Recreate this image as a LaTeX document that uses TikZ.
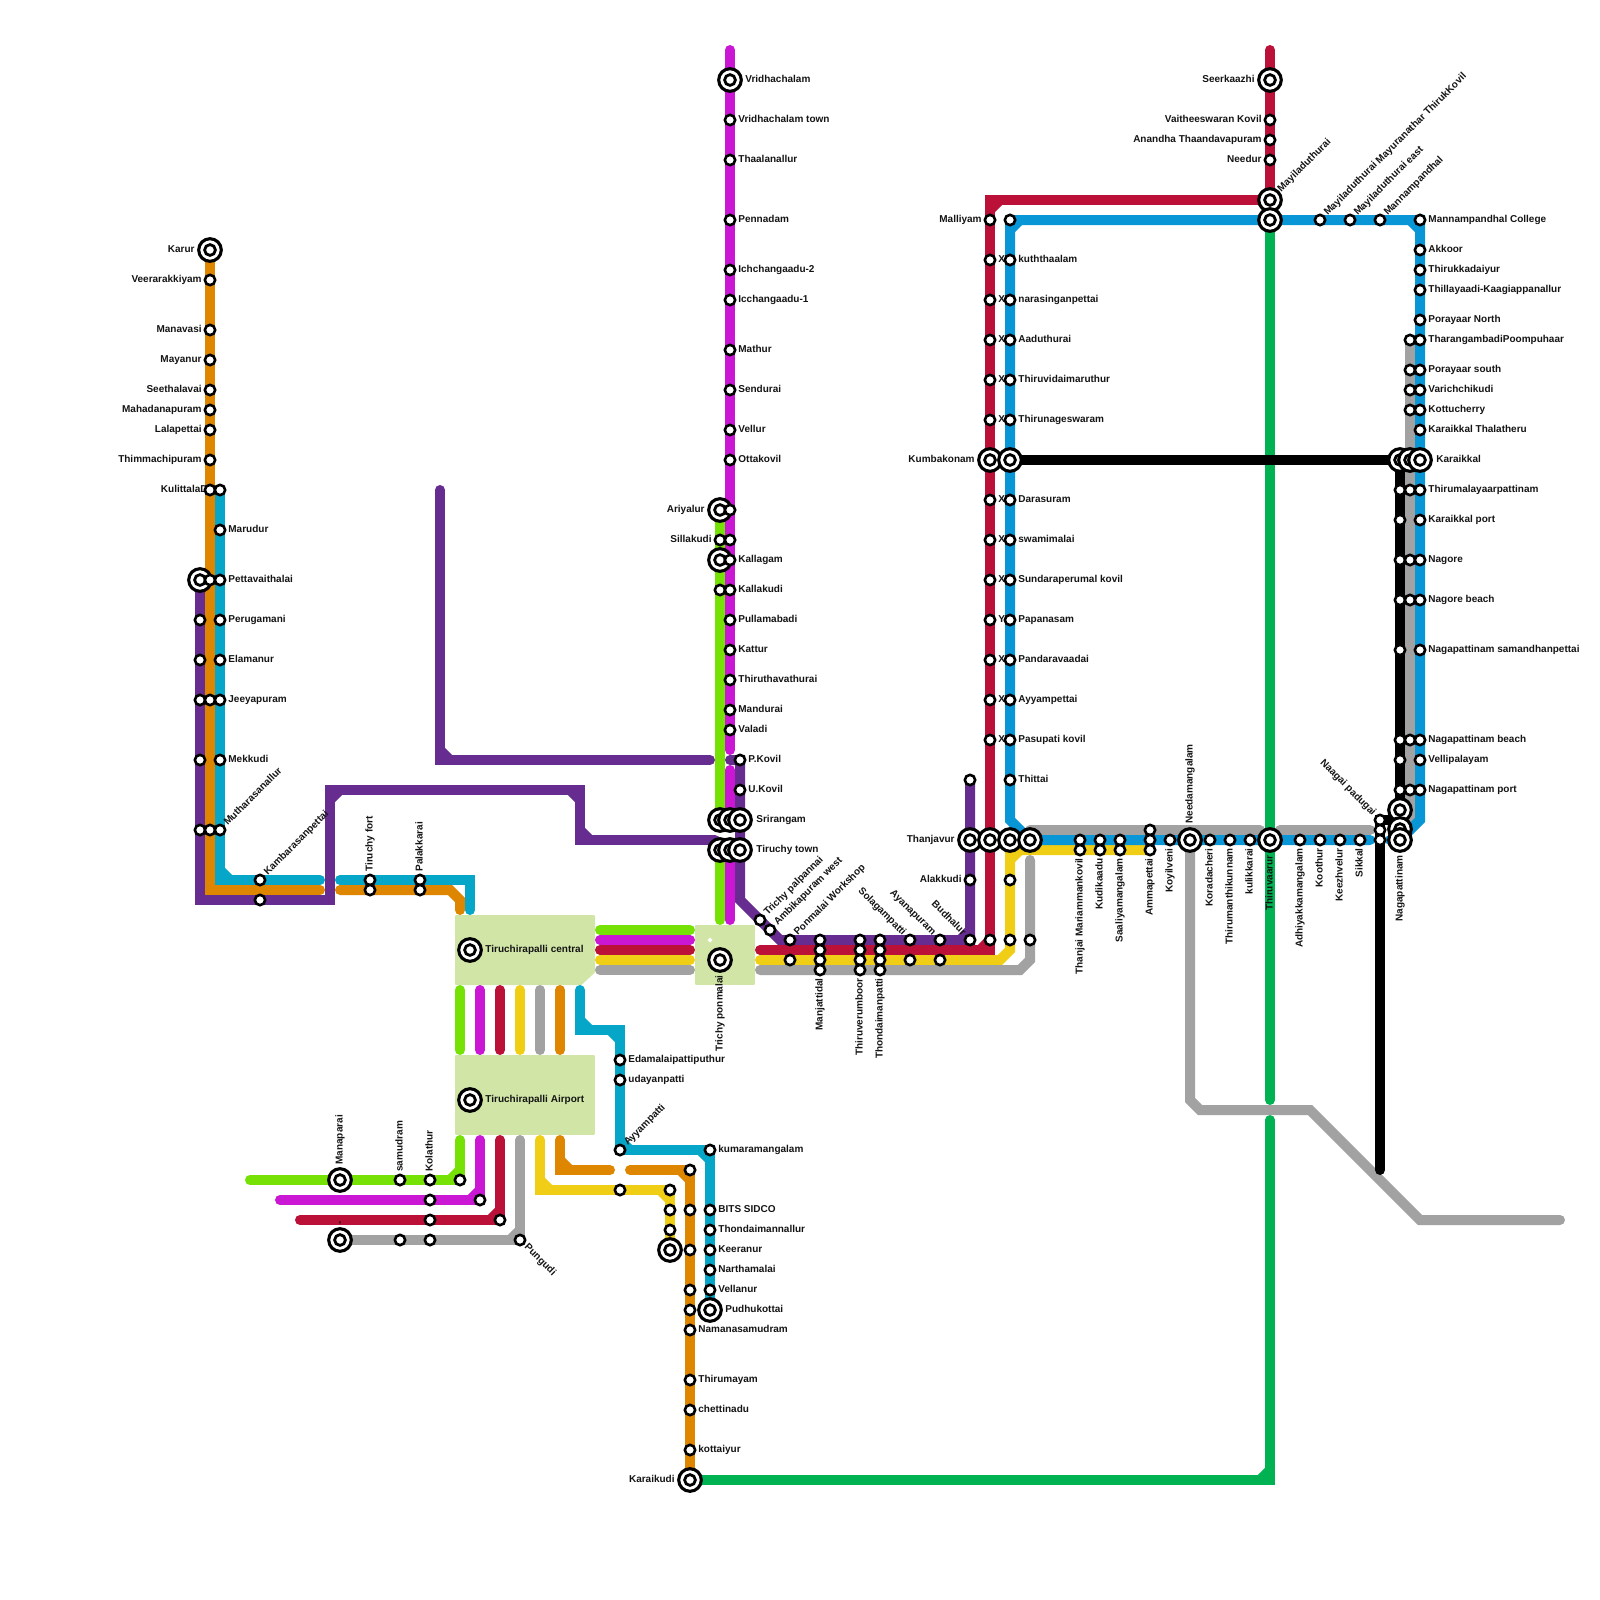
\documentclass[tikz,border=0pt]{standalone}
\usepackage{fontspec}
\setmainfont{Liberation Sans}
\definecolor{cOr}{HTML}{DF8600}
\definecolor{cTe}{HTML}{05A6C8}
\definecolor{cPu}{HTML}{662C90}
\definecolor{cLi}{HTML}{76E104}
\definecolor{cMa}{HTML}{C917D3}
\definecolor{cRe}{HTML}{BB1138}
\definecolor{cYe}{HTML}{F0CE15}
\definecolor{cGy}{HTML}{A2A2A2}
\definecolor{cBl}{HTML}{0896D7}
\definecolor{cGr}{HTML}{00B251}
\definecolor{cHub}{HTML}{D1E6A6}
\pgfdeclarelayer{bg}
\pgfsetlayers{bg,main}
\tikzset{
 ln/.style={line width=5pt,line cap=round,line join=miter},
 stsmall/.style={circle,draw=black,fill=white,inner sep=0pt,minimum size=5.15pt,line width=1.3pt},
 stbig/.style={circle,draw=black,fill=white,inner sep=0pt,minimum size=11.3pt,line width=1.55pt},
 stin/.style={circle,draw=black,fill=white,inner sep=0pt,minimum size=5.4pt,line width=1.4pt},
 lab/.style={inner sep=0pt,font=\fontsize{5}{6}\selectfont\bfseries,text=black!92},
 hub/.style={fill=cHub,draw=cHub,line width=1pt,line join=round},
}
\newcommand\stS[3]{\node[stsmall] (#1) at (#2,#3) {};}
\newcommand\stB[3]{\node[stbig] (#1) at (#2,#3) {};\node[stin] (#1i) at (#2,#3) {};}
\newcommand\lR[3][8]{\node[lab,anchor=base west] (#2R) at ([shift={(#1,2.8)}]#2.center) {#3};}
\newcommand\lL[3][8]{\node[lab,anchor=base east] (#2L) at ([shift={(-#1,2.8)}]#2.center) {#3};}
\newcommand\lU[3][8]{\node[lab,anchor=base west,rotate=90] (#2U) at ([shift={(2.6,-#1)}]#2.center) {#3};}
\newcommand\lD[3][8]{\node[lab,anchor=base east,rotate=90] (#2D) at ([shift={(2.6,#1)}]#2.center) {#3};}
\newcommand\lNE[3][8]{\node[lab,anchor=base west,rotate=45] (#2N) at ([shift={({0.707*#1+1.84},{-0.707*#1+1.84})}]#2.center) {#3};}
\newcommand\lSE[3][8]{\node[lab,anchor=base west,rotate=-45] (#2E) at ([shift={({0.707*#1-1.84},{0.707*#1+1.84})}]#2.center) {#3};}
\newcommand\lNW[3][8]{\node[lab,anchor=base east,rotate=-45] (#2W) at ([shift={({-0.707*#1-1.84},{-0.707*#1+1.84})}]#2.center) {#3};}
\newcommand\chf[5]{\draw[#1,line width=5pt,line cap=butt] ({#2+10*#4},#3) -- (#2,{#3+10*#5});}
\begin{document}
\begin{tikzpicture}[x=0.5pt,y=-0.5pt]
\useasboundingbox (0,0) rectangle (1600,1600);
% ---------- stations: left trunk
\stB{kar}{210}{250}\lL[15]{kar}{Karur}
\stS{vee}{210}{280}\lL{vee}{Veerarakkiyam}
\stS{man}{210}{330}\lL{man}{Manavasi}
\stS{may}{210}{360}\lL{may}{Mayanur}
\stS{see}{210}{390}\lL{see}{Seethalavai}
\stS{mah}{210}{410}\lL{mah}{Mahadanapuram}
\stS{lal}{210}{430}\lL{lal}{Lalapettai}
\stS{thi}{210}{460}\lL{thi}{Thimmachipuram}
\node[lab,anchor=base east] (kulL) at (208,492.8) {KulittalaD};
\stS{kul}{210}{490}
\stS{kula}{220}{490}
\stS{mar}{220}{530}\lR{mar}{Marudur}
\stB{pb}{200}{580}\stS{pm}{210}{580}\stS{pet}{220}{580}\lR{pet}{Pettavaithalai}
\stS{p1}{200}{620}\stS{per}{220}{620}\lR{per}{Perugamani}
\stS{p2}{200}{660}\stS{ela}{220}{660}\lR{ela}{Elamanur}
\stS{p3}{200}{700}\stS{o3}{210}{700}\stS{jee}{220}{700}\lR{jee}{Jeeyapuram}
\stS{p4}{200}{760}\stS{mek}{220}{760}\lR{mek}{Mekkudi}
\stS{p5}{200}{830}\stS{o5}{210}{830}\stS{mut}{220}{830}\lNE{mut}{Mutharasanallur}
\stS{kam}{260}{880}\lNE{kam}{Kambarasanpettai}
\stS{kamb}{260}{900}
\stS{fort}{370}{880}\lU{fort}{Tiruchy fort}
\stS{fortb}{370}{890}
\stS{pal}{420}{880}\lU{pal}{Palakkarai}
\stS{palb}{420}{890}
% hubs
\stB{cen}{470}{950}\lR[15]{cen}{Tiruchirapalli central}
\stB{air}{470}{1100}\lR[15]{air}{Tiruchirapalli Airport}
\stB{pon}{720}{960}\lD[15]{pon}{Trichy ponmalai}
% bottom-left
\stB{mnp}{340}{1180}\lU[15]{mnp}{Manaparai}
\stS{sam}{400}{1180}\lU{sam}{samudram}
\stS{kol}{430}{1180}\lU{kol}{Kolathur}
\stS{gE}{460}{1180}
\stS{kolm}{430}{1200}\stS{mE}{480}{1200}
\stS{kolr}{430}{1220}\stS{rE}{500}{1220}
\stB{gyb}{340}{1240}\lU[15]{gyb}{-}
\stS{gy4}{400}{1240}\stS{kolg}{430}{1240}
\stS{pun}{520}{1240}\lSE{pun}{Pungudi}
% teal south
\stS{eda}{620}{1060}\lR{eda}{Edamalaipattiputhur}
\stS{uda}{620}{1080}\lR{uda}{udayanpatti}
\stS{ayy}{620}{1150}\lNE{ayy}{Ayyampatti}
\stS{kum}{710}{1150}\lR{kum}{kumaramangalam}
\stS{bit}{710}{1210}\lR{bit}{BITS SIDCO}
\stS{tho}{710}{1230}\lR{tho}{Thondaimannallur}
\stS{kee}{710}{1250}\lR{kee}{Keeranur}
\stS{nar}{710}{1270}\lR{nar}{Narthamalai}
\stS{vel}{710}{1290}\lR{vel}{Vellanur}
\stB{pud}{710}{1310}\lR[15]{pud}{Pudhukottai}
% yellow south
\stS{y1}{620}{1190}\stS{y2}{670}{1190}\stS{y3}{670}{1210}\stS{y4}{670}{1230}\stB{y5}{670}{1250}
% orange south
\stS{o1}{690}{1170}\stS{o2}{690}{1210}\stS{o4}{690}{1250}\stS{o6}{690}{1290}\stS{o7}{690}{1310}
\stS{nam}{690}{1330}\lR{nam}{Namanasamudram}
\stS{tmy}{690}{1380}\lR{tmy}{Thirumayam}
\stS{che}{690}{1410}\lR{che}{chettinadu}
\stS{kot}{690}{1450}\lR{kot}{kottaiyur}
\stB{kai}{690}{1480}\lL[15]{kai}{Karaikudi}
% magenta / green north
\stB{vri}{730}{80}\lR[15]{vri}{Vridhachalam}
\stS{vrt}{730}{120}\lR{vrt}{Vridhachalam town}
\stS{tha}{730}{160}\lR{tha}{Thaalanallur}
\stS{pen}{730}{220}\lR{pen}{Pennadam}
\stS{ich}{730}{270}\lR{ich}{Ichchangaadu-2}
\stS{icc}{730}{300}\lR{icc}{Icchangaadu-1}
\stS{mat}{730}{350}\lR{mat}{Mathur}
\stS{sen}{730}{390}\lR{sen}{Sendurai}
\stS{vlr}{730}{430}\lR{vlr}{Vellur}
\stS{ott}{730}{460}\lR{ott}{Ottakovil}
\stB{ari}{720}{510}\lL[15]{ari}{Ariyalur}\stS{aria}{730}{510}
\stS{sil}{720}{540}\lL{sil}{Sillakudi}\stS{sila}{730}{540}
\stB{kalb}{720}{560}\stS{kal}{730}{560}\lR{kal}{Kallagam}
\stS{kkb}{720}{590}\stS{kak}{730}{590}\lR{kak}{Kallakudi}
\stS{pul}{730}{620}\lR{pul}{Pullamabadi}
\stS{kat}{730}{650}\lR{kat}{Kattur}
\stS{ttt}{730}{680}\lR{ttt}{Thiruthavathurai}
\stS{mnd}{730}{710}\lR{mnd}{Mandurai}
\stS{val}{730}{730}\lR{val}{Valadi}
\stS{pko}{740}{760}\lR{pko}{P.Kovil}
\stS{uko}{740}{790}\lR{uko}{U.Kovil}
\stB{sr1}{720}{820}\stB{sr2}{730}{820}\stB{sri}{740}{820}\lR[16]{sri}{Srirangam}
\stB{tt1}{720}{850}\stB{tt2}{730}{850}\stB{ttn}{740}{850}\lR[16]{ttn}{Tiruchy town}
% east row
\stS{tpa}{760}{920}\lNE{tpa}{Trichy palpannai}
\stS{amb}{770}{930}\lNE{amb}{Ambikapuram west}
\stS{pow}{790}{940}\lNE{pow}{Ponmalai Workshop}
\stS{powy}{790}{960}
\stS{mj1}{820}{940}\stS{mj2}{820}{950}\stS{mj3}{820}{960}\stS{mj4}{820}{970}\lD{mj4}{Manjattidal}
\stS{th1}{860}{940}\stS{th2}{860}{950}\stS{th3}{860}{960}\stS{th4}{860}{970}\lD{th4}{Thiruverumboor}
\stS{to1}{880}{940}\stS{to2}{880}{950}\stS{to3}{880}{960}\stS{to4}{880}{970}\lD{to4}{Thondaimanpatti}
\stS{sol}{910}{940}\lNW{sol}{Solagampatti}\stS{soly}{910}{960}
\stS{aya}{940}{940}\lNW{aya}{Ayanapuram}\stS{ayay}{940}{960}
\stS{bud}{970}{940}\lNW{bud}{Budhalur}
\stS{bu2}{990}{940}\stS{bu3}{1010}{940}\stS{bu4}{1030}{940}
\stS{ala}{970}{880}\lL{ala}{Alakkudi}
\stS{alay}{1010}{880}
\stS{pur}{970}{780}
% Thanjavur
\stB{tj1}{970}{840}\lL[15]{tj1}{Thanjavur}
\stB{tj2}{990}{840}\stB{tj3}{1010}{840}\stB{tj4}{1030}{840}
% red / blue columns
\stS{r00}{990}{220}\lL{r00}{Malliyam}
\stS{r01}{990}{260}\lR{r01}{X}
\stS{r02}{990}{300}\lR{r02}{X}
\stS{r03}{990}{340}\lR{r03}{X}
\stS{r04}{990}{380}\lR{r04}{X}
\stS{r05}{990}{420}\lR{r05}{X}
\stS{r07}{990}{500}\lR{r07}{X}
\stS{r08}{990}{540}\lR{r08}{X}
\stS{r09}{990}{580}\lR{r09}{X}
\stS{r10}{990}{620}\lR{r10}{Y}
\stS{r11}{990}{660}\lR{r11}{X}
\stS{r12}{990}{700}\lR{r12}{X}
\stS{r13}{990}{740}\lR{r13}{X}
\stS{b00}{1010}{220}
\stS{b01}{1010}{260}\lR{b01}{kuththaalam}
\stS{b02}{1010}{300}\lR{b02}{narasinganpettai}
\stS{b03}{1010}{340}\lR{b03}{Aaduthurai}
\stS{b04}{1010}{380}\lR{b04}{Thiruvidaimaruthur}
\stS{b05}{1010}{420}\lR{b05}{Thirunageswaram}
\stB{kum1}{990}{460}\lL[15]{kum1}{Kumbakonam}
\stB{kum2}{1010}{460}
\stS{b07}{1010}{500}\lR{b07}{Darasuram}
\stS{b08}{1010}{540}\lR{b08}{swamimalai}
\stS{b09}{1010}{580}\lR{b09}{Sundaraperumal kovil}
\stS{b10}{1010}{620}\lR{b10}{Papanasam}
\stS{b11}{1010}{660}\lR{b11}{Pandaravaadai}
\stS{b12}{1010}{700}\lR{b12}{Ayyampettai}
\stS{b13}{1010}{740}\lR{b13}{Pasupati kovil}
\stS{b14}{1010}{780}\lR{b14}{Thittai}
% row 840
\stS{h1}{1080}{840}\stS{h1y}{1080}{850}\lD{h1y}{Thanjai Mariammankovil}
\stS{h2}{1100}{840}\stS{h2y}{1100}{850}\lD{h2y}{Kudikaadu}
\stS{h3}{1120}{840}\stS{h3y}{1120}{850}\lD{h3y}{Saaliyamangalam}
\stS{h4g}{1150}{830}\stS{h4}{1150}{840}\stS{h4y}{1150}{850}\lD{h4y}{Ammapettai}
\stS{koy}{1170}{840}\lD{koy}{Koyilveni}
\stB{nee}{1190}{840}\lU[16]{nee}{Needamangalam}
\stS{kor}{1210}{840}\lD{kor}{Koradacheri}
\stS{tkn}{1230}{840}\lD{tkn}{Thirumanthikunnam}
\stS{kuk}{1250}{840}\lD{kuk}{kulikkarai}
\stB{tvr}{1270}{840}\lD[15]{tvr}{Thiruvaarur}
\stS{adh}{1300}{840}\lD{adh}{Adhiyakkamangalam}
\stS{koo}{1320}{840}\lD{koo}{Koothur}
\stS{kez}{1340}{840}\lD{kez}{Keezhvelur}
\stS{sik}{1360}{840}\lD{sik}{Sikkal}
% top right
\stB{ser}{1270}{80}\lL[15]{ser}{Seerkaazhi}
\stS{vai}{1270}{120}\lL{vai}{Vaitheeswaran Kovil}
\stS{ana}{1270}{140}\lL{ana}{Anandha Thaandavapuram}
\stS{ndr}{1270}{160}\lL{ndr}{Needur}
\stB{myr}{1270}{200}\lNE[13]{myr}{Mayiladuthurai}
\stB{myb}{1270}{220}
\stS{mm}{1320}{220}\lNE{mm}{Mayiladuthurai Mayuranathar ThirukKovil}
\stS{me}{1350}{220}\lNE{me}{Mayiladuthurai east}
\stS{mp}{1380}{220}\lNE{mp}{Mannampandhal}
\stS{c01}{1420}{220}\lR{c01}{Mannampandhal College}
\stS{c02}{1420}{250}\lR{c02}{Akkoor}
\stS{c03}{1420}{270}\lR{c03}{Thirukkadaiyur}
\stS{c04}{1420}{290}\lR{c04}{Thillayaadi-Kaagiappanallur}
\stS{c05}{1420}{320}\lR{c05}{Porayaar North}
\stS{g06}{1410}{340}\stS{c06}{1420}{340}\lR{c06}{TharangambadiPoompuhaar}
\stS{g07}{1410}{370}\stS{c07}{1420}{370}\lR{c07}{Porayaar south}
\stS{g08}{1410}{390}\stS{c08}{1420}{390}\lR{c08}{Varichchikudi}
\stS{g09}{1410}{410}\stS{c09}{1420}{410}\lR{c09}{Kottucherry}
\stS{c10}{1420}{430}\lR{c10}{Karaikkal Thalatheru}
\stB{kk1}{1400}{460}\stB{kk2}{1410}{460}\stB{kk3}{1420}{460}\lR[16]{kk3}{Karaikkal}
\stS{k11}{1400}{490}\stS{g11}{1410}{490}\stS{c11}{1420}{490}\lR{c11}{Thirumalayaarpattinam}
\stS{k12}{1400}{520}\stS{c12}{1420}{520}\lR{c12}{Karaikkal port}
\stS{k13}{1400}{560}\stS{g13}{1410}{560}\stS{c13}{1420}{560}\lR{c13}{Nagore}
\stS{k14}{1400}{600}\stS{g14}{1410}{600}\stS{c14}{1420}{600}\lR{c14}{Nagore beach}
\stS{k15}{1400}{650}\stS{c15}{1420}{650}\lR{c15}{Nagapattinam samandhanpettai}
\stS{k16}{1400}{740}\stS{g16}{1410}{740}\stS{c16}{1420}{740}\lR{c16}{Nagapattinam beach}
\stS{k17}{1400}{760}\stS{c17}{1420}{760}\lR{c17}{Vellipalayam}
\stS{k18}{1400}{790}\stS{g18}{1410}{790}\stS{c18}{1420}{790}\lR{c18}{Nagapattinam port}
\stB{nb1}{1400}{810}\stB{nb2}{1400}{829}\stB{nag}{1400}{840}\lD[15]{nag}{Nagapattinam}
\stS{np1}{1380}{820}\lNW{np1}{Naagai padugai}
\stS{np2}{1380}{830}\stS{np3}{1380}{840}
% free ends of the lines
\coordinate (eB) at (320,890); \coordinate (eC) at (340,890);
\coordinate (eD) at (320,880); \coordinate (eE) at (340,880);
\coordinate (eP1) at (440,490); \coordinate (eP2) at (710,760); \coordinate (eP3) at (730,760); \coordinate (eP4) at (715,840);
\coordinate (eT) at (220,490);
\coordinate (eG1) at (250,1180); \coordinate (eM1) at (280,1200); \coordinate (eR1) at (300,1220);
\coordinate (eO1) at (610,1170); \coordinate (eO2) at (630,1170);
\coordinate (eRt) at (1270,50); \coordinate (eMt) at (730,50);
\coordinate (eRw) at (760,950); \coordinate (eYw) at (760,960); \coordinate (eGw) at (760,970);
\coordinate (eYe) at (1150,850); \coordinate (eGa) at (1030,860);
\coordinate (eGb) at (1030,830); \coordinate (eGc) at (1260,830); \coordinate (eGd) at (1280,830); \coordinate (eGe) at (1370,830);
\coordinate (eBl1) at (1370,840); \coordinate (eBl2) at (1390,840);
\coordinate (eK) at (1380,1170); \coordinate (eGf) at (1560,1220);
\coordinate (eV1) at (1270,1100); \coordinate (eV2) at (1270,1120);
\begin{pgfonlayer}{bg}
% hubs
\path[hub] (456,916) -- (594,916) -- (594,972) -- (581,984) -- (456,984) -- cycle;
\path[hub] (456,1056) rectangle (594,1134);
\path[hub] (696,926) rectangle (754,984);
\fill[white] (707.5,940) -- (710,937.5) -- (712.5,940) -- (710,942.5) -- cycle;
% hub bars
\foreach \c/\y in {cLi/930,cMa/940,cRe/950,cYe/960,cGy/970}{\draw[ln,\c] (600,\y) -- (690,\y);}
\foreach \c/\x in {cLi/460,cMa/480,cRe/500,cYe/520,cGy/540,cOr/560}{\draw[ln,\c] (\x,990) -- (\x,1050);}
% green (national)
\draw[ln,cGr] (kai.center) -- (1270,1480) -- (eV2); \chf{cGr}{1270}{1480}{-1}{-1}
\draw[ln,cGr] (myb.center) -- (eV1);
% purple
\draw[ln,cPu] (pb.center) -- (200,900) -- (330,900) -- (330,790) -- (580,790) -- (580,840) -- (eP4);
\chf{cPu}{330}{790}{1}{1}\chf{cPu}{580}{790}{-1}{1}\chf{cPu}{580}{840}{1}{-1}
\draw[ln,cPu] (eP1) -- (440,760) -- (eP2); \chf{cPu}{440}{760}{1}{-1}
\draw[ln,cPu] (eP3) -- (740,760) -- (740,900) -- (780,940) -- (970,940) -- (pur.center);
\chf{cPu}{970}{940}{-1}{-1}
% orange
\draw[ln,cOr] (kar.center) -- (210,890) -- (eB);
\draw[ln,cOr] (eC) -- (450,890) -- (460,900) -- (460,910);
\draw[ln,cOr] (560,1140) -- (560,1170) -- (eO1); \chf{cOr}{560}{1170}{1}{-1}
\draw[ln,cOr] (eO2) -- (690,1170) -- (kai.center); \chf{cOr}{690}{1170}{-1}{1}
% teal
\draw[ln,cTe] (eT) -- (220,880) -- (eD); \chf{cTe}{220}{880}{1}{-1}
\draw[ln,cTe] (eE) -- (470,880) -- (470,910);
\draw[ln,cTe] (580,990) -- (580,1030) -- (620,1030) -- (620,1150) -- (710,1150) -- (pud.center);
\chf{cTe}{580}{1030}{1}{-1}\chf{cTe}{620}{1030}{-1}{1}\chf{cTe}{620}{1150}{1}{-1}\chf{cTe}{710}{1150}{-1}{1}
% lime
\draw[ln,cLi] (ari.center) -- (720,825);
\draw[ln,cLi] (720,855) -- (720,920);
\draw[ln,cLi] (460,1140) -- (460,1180) -- (eG1); \chf{cLi}{460}{1180}{-1}{-1}
% magenta
\draw[ln,cMa] (eMt) -- (730,750);
\draw[ln,cMa] (730,770) -- (730,825);
\draw[ln,cMa] (730,855) -- (730,920);
\draw[ln,cMa] (480,1140) -- (480,1200) -- (eM1); \chf{cMa}{480}{1200}{-1}{-1}
% red
\draw[ln,cRe] (eRt) -- (1270,200) -- (990,200) -- (990,950) -- (eRw);
\chf{cRe}{990}{200}{1}{1}\chf{cRe}{990}{950}{-1}{-1}
\draw[ln,cRe] (500,1140) -- (500,1220) -- (eR1); \chf{cRe}{500}{1220}{-1}{-1}
% yellow
\draw[ln,cYe] (eYw) -- (1000,960) -- (1010,950) -- (1010,850) -- (eYe); \chf{cYe}{1010}{850}{1}{1}
\draw[ln,cYe] (540,1140) -- (540,1190) -- (670,1190) -- (y5.center);
\chf{cYe}{540}{1190}{1}{-1}\chf{cYe}{670}{1190}{-1}{1}
% gray
\draw[ln,cGy] (eGw) -- (1020,970) -- (1030,960) -- (eGa);
\draw[ln,cGy] (eGb) -- (eGc);
\draw[ln,cGy] (eGd) -- (eGe);
\draw[ln,cGy] (nee.center) -- (1190,1100) -- (1200,1110) -- (1310,1110) -- (1420,1220) -- (eGf);
\draw[ln,cGy] (520,1140) -- (520,1240) -- (gyb.center); \chf{cGy}{520}{1240}{-1}{-1}
\draw[ln,cGy] (g06.center) -- (1410,825);
% blue
\draw[ln,cBl] (b00.center) -- (1420,220) -- (1420,820) -- (1400,840) -- (eBl2);
\chf{cBl}{1010}{220}{1}{1}\chf{cBl}{1420}{220}{-1}{1}
\draw[ln,cBl] (b00.center) -- (1010,820) -- (1030,840) -- (eBl1);
% black
\draw[ln,black] (kum2.center) -- (1400,460) -- (1400,820) -- (1380,820) -- (eK);
\end{pgfonlayer}
\end{tikzpicture}
\end{document}
